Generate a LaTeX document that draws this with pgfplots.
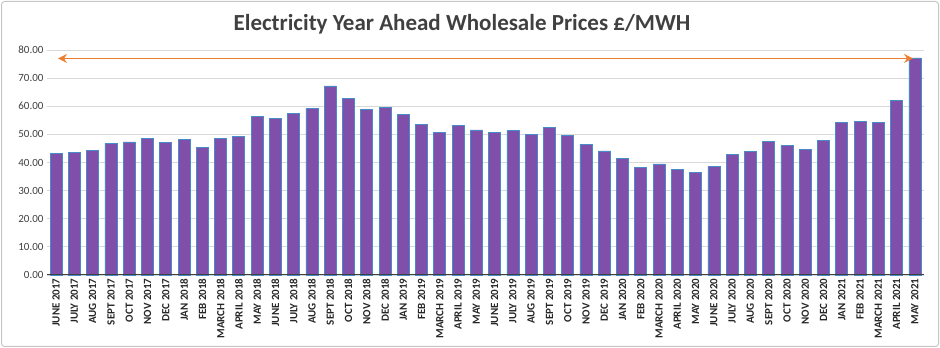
\documentclass[border=0pt]{standalone}
\usepackage{pgfplots}
\pgfplotsset{compat=1.18}
\usepackage{fontspec}
\setmainfont{Carlito}
\usetikzlibrary{arrows.meta}
\definecolor{barpurple}{RGB}{127,79,170}
\definecolor{baredge}{RGB}{70,140,200}
\definecolor{arroworange}{RGB}{237,125,49}
\definecolor{txt}{RGB}{64,64,64}
\definecolor{gridc}{RGB}{217,217,217}
\begin{document}
\begin{tikzpicture}[x=1pt,y=1pt]
\useasboundingbox (0,0) rectangle (940,348);
\draw[gray!45, line width=1pt, rounded corners=3pt] (1.5,1.5) rectangle (938.5,346.5);
\node[font=\fontsize{23}{27}\selectfont\bfseries, text=txt] at (462,324) {Electricity Year Ahead Wholesale Prices £/MWH};
\begin{axis}[at={(47pt,73pt)}, anchor=south west, scale only axis,
  width=877pt, height=225pt,
  xmin=-0.5, xmax=47.5, ymin=0, ymax=80,
  axis line style={draw=none}, tick style={draw=none},
  ymajorgrids, grid style={gridc, line width=0.8pt},
  ytick={0,10,...,80},
  yticklabels={0.00,10.00,20.00,30.00,40.00,50.00,60.00,70.00,80.00},
  yticklabel style={font=\fontsize{11}{13}\selectfont, text=txt},
  xtick={0,...,47},
  xticklabels={JUNE 2017,JULY 2017,AUG 2017,SEPT 2017,OCT 2017,NOV 2017,DEC 2017,JAN 2018,FEB 2018,MARCH 2018,APRIL 2018,MAY 2018,JUNE 2018,JULY 2018,AUG 2018,SEPT 2018,OCT 2018,NOV 2018,DEC 2018,JAN 2019,FEB 2019,MARCH 2019,APRIL 2019,MAY 2019,JUNE 2019,JULY 2019,AUG 2019,SEPT 2019,OCT 2019,NOV 2019,DEC 2019,JAN 2020,FEB 2020,MARCH 2020,APRIL 2020,MAY 2020,JUNE 2020,JULY 2020,AUG 2020,SEPT 2020,OCT 2020,NOV 2020,DEC 2020,JAN 2021,FEB 2021,MARCH 2021,APRIL 2021,MAY 2021},
  xticklabel style={rotate=90, anchor=east, font=\fontsize{11}{13}\selectfont\bfseries, text=black!85},
  clip=false]
\addplot[ybar, bar width=12pt, fill=barpurple, draw=baredge, line width=0.7pt] coordinates {
(0,43.3) (1,43.5) (2,44.3) (3,46.9) (4,47.3) (5,48.5) (6,47.1) (7,48.1) (8,45.4) (9,48.6)
(10,49.2) (11,56.3) (12,55.7) (13,57.4) (14,59.1) (15,67.2) (16,62.8) (17,58.9) (18,59.5) (19,57.1)
(20,53.6) (21,50.7) (22,53.3) (23,51.6) (24,50.6) (25,51.4) (26,49.9) (27,52.4) (28,49.5) (29,46.5)
(30,44.1) (31,41.5) (32,38.3) (33,39.5) (34,37.6) (35,36.4) (36,38.6) (37,42.9) (38,43.9) (39,47.4)
(40,46.1) (41,44.6) (42,47.8) (43,54.3) (44,54.6) (45,54.3) (46,62.1) (47,77.2)};
\draw[txt, line width=1pt] (rel axis cs:0,0) -- (rel axis cs:1,0);
\addplot[arroworange, line width=1.5pt, {Stealth[length=9pt,width=9pt]}-{Stealth[length=9pt,width=9pt]}] coordinates {(0.1,77) (46.9,77)};
\end{axis}
\end{tikzpicture}
\end{document}
